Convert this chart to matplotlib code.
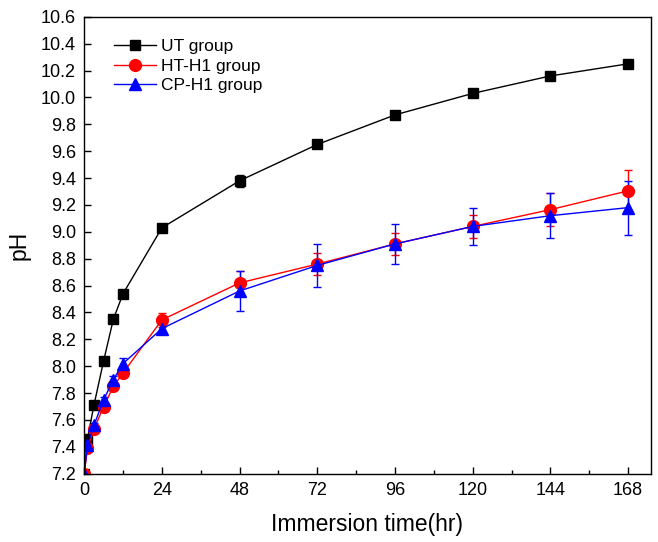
import numpy as np
import matplotlib.pyplot as plt
from matplotlib.lines import Line2D

plt.rcParams['font.family'] = ['Liberation Sans', 'DejaVu Sans']

# immersion time (hr)
t = [0, 1, 3, 6, 9, 12, 24, 48, 72, 96, 120, 144, 168]

# pH values
ut = [7.20, 7.46, 7.71, 8.04, 8.35, 8.54, 9.03, 9.38, 9.65, 9.87, 10.03, 10.16, 10.25]
ut_err = [0, 0.01, 0.01, 0.01, 0.01, 0.01, 0.01, 0.045, 0.01, 0.01, 0.01, 0.01, 0.01]

ht = [7.20, 7.39, 7.53, 7.70, 7.85, 7.95, 8.345, 8.62, 8.76, 8.91, 9.04, 9.165, 9.305]
ht_err = [0, 0.02, 0.02, 0.02, 0.02, 0.02, 0.05, 0.09, 0.08, 0.08, 0.084, 0.125, 0.155]

cp = [7.20, 7.41, 7.56, 7.75, 7.90, 8.02, 8.28, 8.56, 8.75, 8.91, 9.04, 9.12, 9.18]
cp_err = [0, 0.02, 0.02, 0.02, 0.03, 0.04, 0.04, 0.15, 0.16, 0.15, 0.14, 0.167, 0.2]

labels = ['UT group', 'HT-H1 group', 'CP-H1 group']

fig = plt.figure(figsize=(6.58, 5.42), dpi=100)
ax = fig.add_axes([0.128, 0.126, 0.861, 0.843])

ax.errorbar(t, ut, yerr=ut_err, color='black', marker='s', markersize=7.5,
            linewidth=1, elinewidth=1, capsize=3)
ax.errorbar(t, ht, yerr=ht_err, color='red', marker='o', markersize=8.5,
            linewidth=1, elinewidth=1, capsize=3)
ax.errorbar(t, cp, yerr=cp_err, color='blue', marker='^', markersize=8.5,
            linewidth=1, elinewidth=1, capsize=3)

ax.set_xlim(0, 175)
ax.set_ylim(7.2, 10.6)
ax.set_xticks(np.arange(0, 169, 24))
ax.set_xticks(np.arange(12, 169, 24), minor=True)
yt = np.arange(7.2, 10.61, 0.2)
ax.set_yticks(yt)
ax.set_yticklabels([f'{v:.1f}' for v in yt])

ax.tick_params(direction='in', labelsize=13, length=5, width=1, pad=6)
ax.tick_params(which='minor', direction='in', length=3, width=1)
for s in ax.spines.values():
    s.set_linewidth(1)

ax.set_xlabel('Immersion time(hr)', fontsize=16.5, labelpad=10)
ax.set_ylabel('pH', fontsize=16.5, labelpad=7)

handles = [
    Line2D([], [], color='black', marker='s', markersize=7.5, linewidth=1),
    Line2D([], [], color='red', marker='o', markersize=8.5, linewidth=1),
    Line2D([], [], color='blue', marker='^', markersize=8.5, linewidth=1),
]
ax.legend(handles, labels, loc='upper left', bbox_to_anchor=(0.025, 0.985),
          frameon=False, fontsize=12.5, handlelength=2.4, labelspacing=0.25,
          handletextpad=0.3)

plt.savefig('out.png', dpi=100)
